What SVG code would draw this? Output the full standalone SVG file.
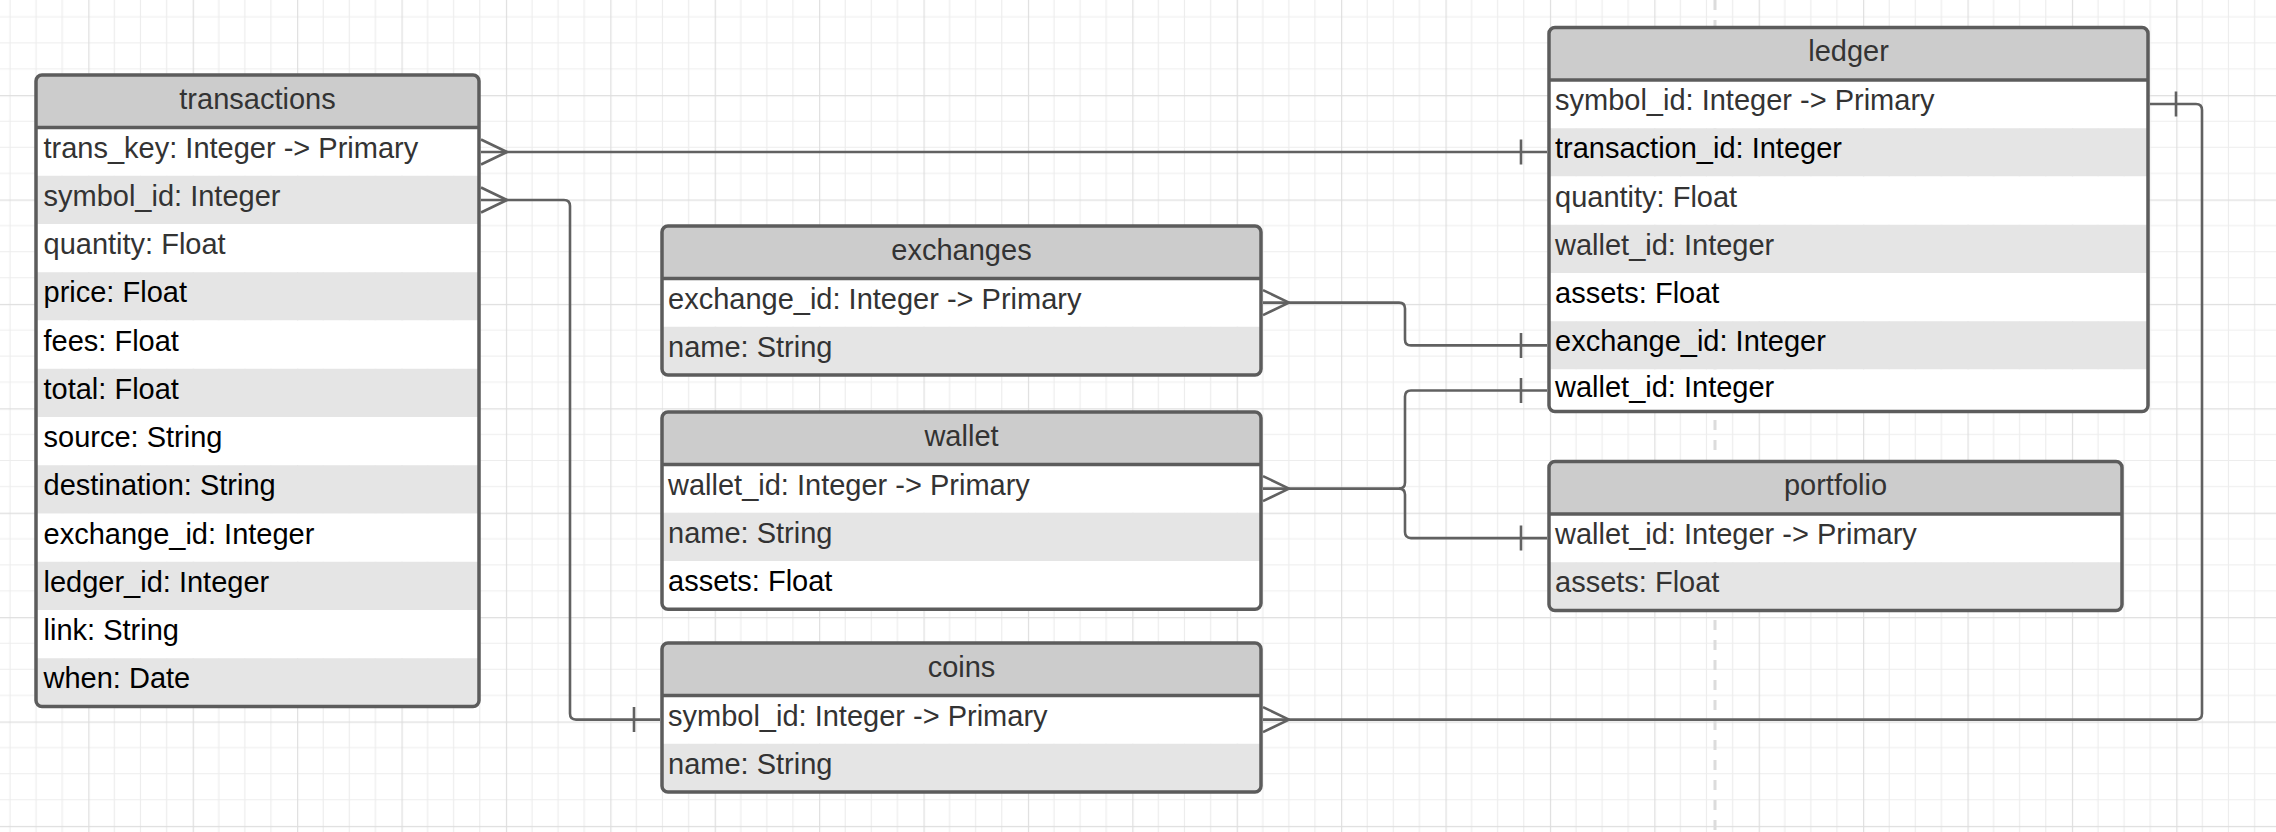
<svg xmlns="http://www.w3.org/2000/svg" width="2276" height="832" viewBox="0 0 2276 832">
<style>
  .frame{fill:none;stroke:#5c5c5c;stroke-width:3.5}
  .hdr{fill:#cccccc}
  .w{fill:#ffffff}
  .g{fill:#e5e5e5}
  .hl{stroke:#5c5c5c;stroke-width:3.5}
  text{font-family:"Liberation Sans",Arial,sans-serif;font-size:29px}
  .t{fill:#333333;text-anchor:middle}
  .d{fill:#333333}
  .b{fill:#000000}
  .c{fill:none;stroke:#616161;stroke-width:2.6;stroke-linejoin:round}
</style>
<defs>
  <pattern id="grid" patternUnits="userSpaceOnUse" x="88.3" y="95.1" width="104.4" height="104.4">
    <path d="M26.1 0V104.4M52.2 0V104.4M78.3 0V104.4M0 26.1H104.4M0 52.2H104.4M0 78.3H104.4" stroke="#ededed" stroke-width="1.2" fill="none"/>
    <path d="M0.6 0V104.4M0 0.6H104.4" stroke="#dedede" stroke-width="1.2" fill="none"/>
  </pattern>
  <clipPath id="cpT"><rect x="36" y="75" width="443" height="631.5" rx="6"/></clipPath>
  <clipPath id="cpE"><rect x="662" y="226" width="599" height="149" rx="6"/></clipPath>
  <clipPath id="cpW"><rect x="662" y="412" width="599" height="197.25" rx="6"/></clipPath>
  <clipPath id="cpC"><rect x="662" y="643" width="599" height="149" rx="6"/></clipPath>
  <clipPath id="cpL"><rect x="1549" y="27.5" width="599" height="384" rx="6"/></clipPath>
  <clipPath id="cpP"><rect x="1549" y="461.5" width="573" height="149" rx="6"/></clipPath>
</defs>
<rect width="2276" height="832" fill="#ffffff"/>
<rect width="2276" height="832" fill="url(#grid)"/>
<line x1="1715" y1="0" x2="1715" y2="832" stroke="#dcdcdc" stroke-width="3" stroke-dasharray="10 10"/>

<g id="transactions">
  <g clip-path="url(#cpT)">
    <rect class="hdr" x="36" y="75" width="443" height="52.5"/>
    <rect class="w" x="36" y="127.5" width="443" height="48.25"/>
    <rect class="g" x="36" y="175.75" width="443" height="48.25"/>
    <rect class="w" x="36" y="224" width="443" height="48.25"/>
    <rect class="g" x="36" y="272.25" width="443" height="48.25"/>
    <rect class="w" x="36" y="320.5" width="443" height="48.25"/>
    <rect class="g" x="36" y="368.75" width="443" height="48.25"/>
    <rect class="w" x="36" y="417" width="443" height="48.25"/>
    <rect class="g" x="36" y="465.25" width="443" height="48.25"/>
    <rect class="w" x="36" y="513.5" width="443" height="48.25"/>
    <rect class="g" x="36" y="561.75" width="443" height="48.25"/>
    <rect class="w" x="36" y="610" width="443" height="48.25"/>
    <rect class="g" x="36" y="658.25" width="443" height="48.25"/>
  </g>
  <line class="hl" x1="36" y1="127.5" x2="479" y2="127.5"/>
  <rect class="frame" x="36" y="75" width="443" height="631.5" rx="6"/>
  <text class="t" x="257.5" y="109">transactions</text>
  <text class="d" x="43.5" y="157.5">trans_key: Integer -&gt; Primary</text>
  <text class="d" x="43.5" y="205.75">symbol_id: Integer</text>
  <text class="d" x="43.5" y="254">quantity: Float</text>
  <text class="b" x="43.5" y="302.25">price: Float</text>
  <text class="b" x="43.5" y="350.5">fees: Float</text>
  <text class="b" x="43.5" y="398.75">total: Float</text>
  <text class="b" x="43.5" y="447">source: String</text>
  <text class="b" x="43.5" y="495.25">destination: String</text>
  <text class="b" x="43.5" y="543.5">exchange_id: Integer</text>
  <text class="b" x="43.5" y="591.75">ledger_id: Integer</text>
  <text class="b" x="43.5" y="640">link: String</text>
  <text class="b" x="43.5" y="688.25">when: Date</text>
</g>

<g id="exchanges">
  <g clip-path="url(#cpE)">
    <rect class="hdr" x="662" y="226" width="599" height="52.5"/>
    <rect class="w" x="662" y="278.5" width="599" height="48.25"/>
    <rect class="g" x="662" y="326.75" width="599" height="48.25"/>
  </g>
  <line class="hl" x1="662" y1="278.5" x2="1261" y2="278.5"/>
  <rect class="frame" x="662" y="226" width="599" height="149" rx="6"/>
  <text class="t" x="961.5" y="260">exchanges</text>
  <text class="d" x="668" y="308.5">exchange_id: Integer -&gt; Primary</text>
  <text class="d" x="668" y="356.75">name: String</text>
</g>

<g id="wallet">
  <g clip-path="url(#cpW)">
    <rect class="hdr" x="662" y="412" width="599" height="52.5"/>
    <rect class="w" x="662" y="464.5" width="599" height="48.25"/>
    <rect class="g" x="662" y="512.75" width="599" height="48.25"/>
    <rect class="w" x="662" y="561" width="599" height="48.25"/>
  </g>
  <line class="hl" x1="662" y1="464.5" x2="1261" y2="464.5"/>
  <rect class="frame" x="662" y="412" width="599" height="197.25" rx="6"/>
  <text class="t" x="961.5" y="446">wallet</text>
  <text class="d" x="668" y="494.5">wallet_id: Integer -&gt; Primary</text>
  <text class="d" x="668" y="542.75">name: String</text>
  <text class="b" x="668" y="591">assets: Float</text>
</g>

<g id="coins">
  <g clip-path="url(#cpC)">
    <rect class="hdr" x="662" y="643" width="599" height="52.5"/>
    <rect class="w" x="662" y="695.5" width="599" height="48.25"/>
    <rect class="g" x="662" y="743.75" width="599" height="48.25"/>
  </g>
  <line class="hl" x1="662" y1="695.5" x2="1261" y2="695.5"/>
  <rect class="frame" x="662" y="643" width="599" height="149" rx="6"/>
  <text class="t" x="961.5" y="677">coins</text>
  <text class="d" x="668" y="725.5">symbol_id: Integer -&gt; Primary</text>
  <text class="d" x="668" y="773.75">name: String</text>
</g>

<g id="ledger">
  <g clip-path="url(#cpL)">
    <rect class="hdr" x="1549" y="27.5" width="599" height="52.5"/>
    <rect class="w" x="1549" y="80" width="599" height="48.25"/>
    <rect class="g" x="1549" y="128.25" width="599" height="48.25"/>
    <rect class="w" x="1549" y="176.5" width="599" height="48.25"/>
    <rect class="g" x="1549" y="224.75" width="599" height="48.25"/>
    <rect class="w" x="1549" y="273" width="599" height="48.25"/>
    <rect class="g" x="1549" y="321.25" width="599" height="48.25"/>
    <rect class="w" x="1549" y="369.5" width="599" height="42"/>
  </g>
  <line class="hl" x1="1549" y1="80" x2="2148" y2="80"/>
  <rect class="frame" x="1549" y="27.5" width="599" height="384" rx="6"/>
  <text class="t" x="1848.5" y="61">ledger</text>
  <text class="d" x="1555" y="110">symbol_id: Integer -&gt; Primary</text>
  <text class="b" x="1555" y="158.25">transaction_id: Integer</text>
  <text class="d" x="1555" y="206.5">quantity: Float</text>
  <text class="d" x="1555" y="254.75">wallet_id: Integer</text>
  <text class="b" x="1555" y="303">assets: Float</text>
  <text class="b" x="1555" y="351.25">exchange_id: Integer</text>
  <text class="b" x="1555" y="396.5">wallet_id: Integer</text>
</g>

<g id="portfolio">
  <g clip-path="url(#cpP)">
    <rect class="hdr" x="1549" y="461.5" width="573" height="52.5"/>
    <rect class="w" x="1549" y="514" width="573" height="48.25"/>
    <rect class="g" x="1549" y="562.25" width="573" height="48.25"/>
  </g>
  <line class="hl" x1="1549" y1="514" x2="2122" y2="514"/>
  <rect class="frame" x="1549" y="461.5" width="573" height="149" rx="6"/>
  <text class="t" x="1835.5" y="495">portfolio</text>
  <text class="d" x="1555" y="544">wallet_id: Integer -&gt; Primary</text>
  <text class="d" x="1555" y="592.25">assets: Float</text>
</g>

<g id="connectors">
  <!-- transactions.trans_key -> ledger.transaction_id -->
  <path class="c" d="M481 152H1547"/>
  <path class="c" d="M481 139.5L507 152L481 164.5M1521 139.5V164.5"/>
  <!-- transactions.symbol_id -> coins.symbol_id -->
  <path class="c" d="M481 200H564Q570 200 570 206V713.6Q570 719.6 576 719.6H660"/>
  <path class="c" d="M481 187.5L507 200L481 212.5M634 707V732"/>
  <!-- exchanges.exchange_id -> ledger.exchange_id -->
  <path class="c" d="M1263 302.6H1399Q1405 302.6 1405 308.6V339.4Q1405 345.4 1411 345.4H1547"/>
  <path class="c" d="M1263 290.1L1289 302.6L1263 315.1M1521 333V358"/>
  <!-- wallet.wallet_id -> ledger.wallet_id -->
  <path class="c" d="M1263 488.6H1399Q1405 488.6 1405 482.6V396.5Q1405 390.5 1411 390.5H1547"/>
  <path class="c" d="M1521 378V403"/>
  <!-- wallet.wallet_id -> portfolio.wallet_id -->
  <path class="c" d="M1399 488.6Q1405 488.6 1405 494.6V532.1Q1405 538.1 1411 538.1H1547"/>
  <path class="c" d="M1263 476.1L1289 488.6L1263 501.1M1521 525.6V550.6"/>
  <!-- ledger.symbol_id -> coins.symbol_id -->
  <path class="c" d="M2150 104H2196Q2202 104 2202 110V713.6Q2202 719.6 2196 719.6H1263"/>
  <path class="c" d="M2176 91.5V116.5M1263 707.1L1289 719.6L1263 732.1"/>
</g>
</svg>
